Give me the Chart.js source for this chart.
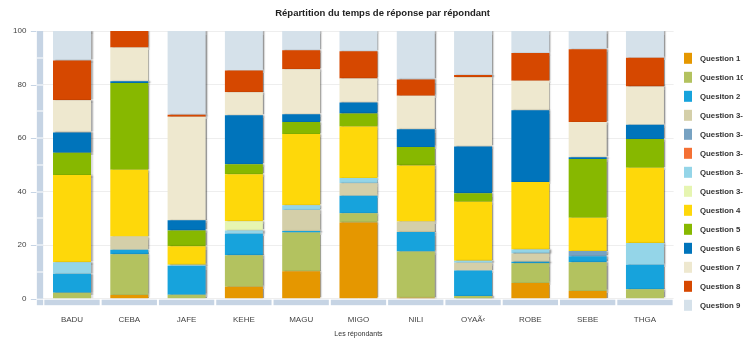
<!DOCTYPE html>
<html>
<head>
<meta charset="utf-8">
<script src="https://cdn.jsdelivr.net/npm/chart.js@4/dist/chart.umd.min.js"></script>
<style>
  html, body { margin: 0; padding: 0; background: #fff; overflow: hidden; }
  #wrap { width: 743px; height: 340px; position: relative; }
</style>
</head>
<body>
<div id="wrap"><canvas id="c" width="743" height="340"></canvas></div>
<script>
// Respondents (categories)
const respondents = ['BADU', 'CEBA', 'JAFE', 'KEHE', 'MAGU', 'MIGO', 'NILI', 'OYAÃ‹', 'ROBE', 'SEBE', 'THGA'];

// Share of response time per question (%), stacked bottom to top
const q1   = [0,    1.4,  0,    4.5,  10.3, 28.5, 0.4,  0,    5.9,  2.9,  0];
const q10  = [2.2,  15.2, 1.5,  11.7, 14.4, 3.4,  17.2, 1.0,  7.3,  10.7, 3.5];
const q2   = [7.0,  1.7,  10.7, 8.1,  0.6,  6.6,  7.3,  9.5,  0.6,  2.3,  9.2];
const q3a  = [0,    4.9,  0,    0,    7.8,  4.6,  3.9,  2.9,  3.1,  0,    0];
const q3b  = [0,    0,    0,    0,    0,    0,    0,    0,    0,    1.9,  0];
const q3c  = [0,    0,    0,    0,    0,    0,    0,    0,    0,    0,    0];
const q3d  = [4.4,  0,    0.5,  1.2,  1.8,  2.0,  0,    0.8,  1.5,  0,    8.1];
const q3e  = [0,    0,    0,    3.4,  0,    0,    0,    0,    0,    0,    0];
const q4   = [32.6, 25.0, 6.9,  17.6, 26.6, 19.2, 21.0, 22.0, 25.2, 12.4, 28.1];
const q5   = [8.3,  32.4, 5.9,  3.7,  4.5,  4.9,  6.9,  3.2,  0,    22.0, 10.8];
const q6   = [7.6,  0.6,  3.8,  18.3, 2.9,  4.1,  6.6,  17.5, 26.8, 0.6,  5.3];
const q7   = [12.0, 12.6, 38.7, 8.6,  16.8, 9.0,  12.5, 25.8, 11.0, 13.2, 14.3];
const q8   = [14.9, 6.2,  0.7,  8.1,  7.1,  10.1, 6.1,  0.9,  10.4, 27.2, 10.7];
const q9   = [11.0, 0,    31.3, 14.8, 7.2,  7.6,  18.1, 16.4, 8.2,  6.8,  10.0];

const seriesNames = ['Question 1', 'Question 10', 'Quesiton 2', 'Question 3-1', 'Question 3-2',
  'Question 3-3', 'Question 3-4', 'Question 3-5', 'Question 4', 'Question 5', 'Question 6',
  'Question 7', 'Question 8', 'Question 9'];
const seriesValues = [q1, q10, q2, q3a, q3b, q3c, q3d, q3e, q4, q5, q6, q7, q8, q9];
const seriesColors = ['#E59700', '#B3C25F', '#17A3DC', '#D4CFA9', '#77A2C2', '#F47034',
  '#94D5E8', '#E6F5B1', '#FED80A', '#87B800', '#0074BB', '#EEE8CF', '#D64800', '#D5E1EA'];

const yTicks = [0, 20, 40, 60, 80, 100];

const STRIP = '#C6D4E4';

// Axis bands, legend and heading drawn around the plot
const decorations = {
  id: 'decorations',
  beforeDatasetsDraw(chart) {
    const ctx = chart.ctx;
    ctx.save();
    ctx.shadowColor = 'rgba(0,0,0,0.4)';
    ctx.shadowOffsetX = 2;
    ctx.shadowOffsetY = 0;
    ctx.shadowBlur = 1.5;
  },
  afterDatasetsDraw(chart) {
    chart.ctx.restore();
  },
  afterDraw(chart) {
    const ctx = chart.ctx;
    const y = chart.scales.y, x = chart.scales.x;
    const area = chart.chartArea;
    ctx.save();
    // vertical band
    const bandL = area.left - 6.5, bandW = 6.3;
    ctx.fillStyle = STRIP;
    ctx.fillRect(bandL, area.top, bandW, area.bottom - area.top);
    ctx.fillRect(bandL, area.bottom + 1, bandW, 5.5);
    ctx.fillStyle = '#ffffff';
    for (let v = 10; v < 100; v += 10) {
      ctx.fillRect(bandL, Math.round(y.getPixelForValue(v)) - 0.5, bandW, 1);
    }
    // major tick marks
    ctx.strokeStyle = STRIP;
    ctx.lineWidth = 1;
    yTicks.forEach(v => {
      const py = Math.round(y.getPixelForValue(v)) + 0.5;
      ctx.beginPath();
      ctx.moveTo(bandL - 6, py);
      ctx.lineTo(bandL - 0.5, py);
      ctx.stroke();
    });
    // horizontal band, one segment per category
    ctx.fillStyle = STRIP;
    const step = (area.right - area.left) / respondents.length;
    respondents.forEach((r, i) => {
      const cx = x.getPixelForValue(i);
      ctx.fillRect(cx - step / 2 + 1, area.bottom + 1, step - 2, 5.5);
    });
    // heading
    ctx.fillStyle = '#222';
    ctx.font = 'bold 9.5px "Liberation Sans", Arial, sans-serif';
    ctx.textAlign = 'center';
    ctx.textBaseline = 'middle';
    ctx.fillText('Répartition du temps de réponse par répondant', 382.6, 13.5);
    // legend
    ctx.textAlign = 'left';
    ctx.font = 'bold 7.8px "Liberation Sans", Arial, sans-serif';
    chart.data.datasets.forEach((ds, i) => {
      const cy = 58.3 + 19 * i;
      ctx.fillStyle = ds.backgroundColor;
      ctx.fillRect(684, cy - 5.5, 8, 11);
      ctx.fillStyle = '#333';
      ctx.fillText(ds.label, 700, cy + 0.5);
    });
    ctx.restore();
  }
};

new Chart(document.getElementById('c'), {
  type: 'bar',
  data: {
    labels: respondents,
    datasets: seriesNames.map((name, i) => ({
      label: name,
      data: seriesValues[i],
      backgroundColor: seriesColors[i],
      borderWidth: 0,
      barPercentage: 0.663,
      categoryPercentage: 1
    }))
  },
  options: {
    responsive: false,
    animation: false,
    devicePixelRatio: 1,
    layout: { padding: { left: 0, top: 31, right: 69.4, bottom: 0 } },
    plugins: {
      legend: { display: false },
      title: { display: false },
      tooltip: { enabled: false }
    },
    scales: {
      x: {
        stacked: true,
        grid: { display: false, drawTicks: false },
        border: { display: false },
        ticks: {
          color: '#444',
          padding: 16.5,
          font: { family: '"Liberation Sans", Arial, sans-serif', size: 8 },
          maxRotation: 0
        },
        title: {
          display: true,
          text: 'Les répondants',
          color: '#333',
          font: { family: '"Liberation Sans", Arial, sans-serif', size: 7 },
          padding: { top: 0, bottom: 2 }
        },
        afterFit(scale) { scale.height = 41.3; }
      },
      y: {
        stacked: true,
        min: 0,
        max: 100,
        afterBuildTicks(scale) { scale.ticks = yTicks.map(v => ({ value: v })); },
        grid: { color: '#EEEEEE', lineWidth: 1, drawTicks: false },
        border: { display: false },
        ticks: {
          color: '#444',
          padding: 17,
          font: { family: '"Liberation Sans", Arial, sans-serif', size: 8 }
        },
        afterFit(scale) { scale.width = 43.35; }
      }
    }
  },
  plugins: [decorations]
});
</script>
</body>
</html>
